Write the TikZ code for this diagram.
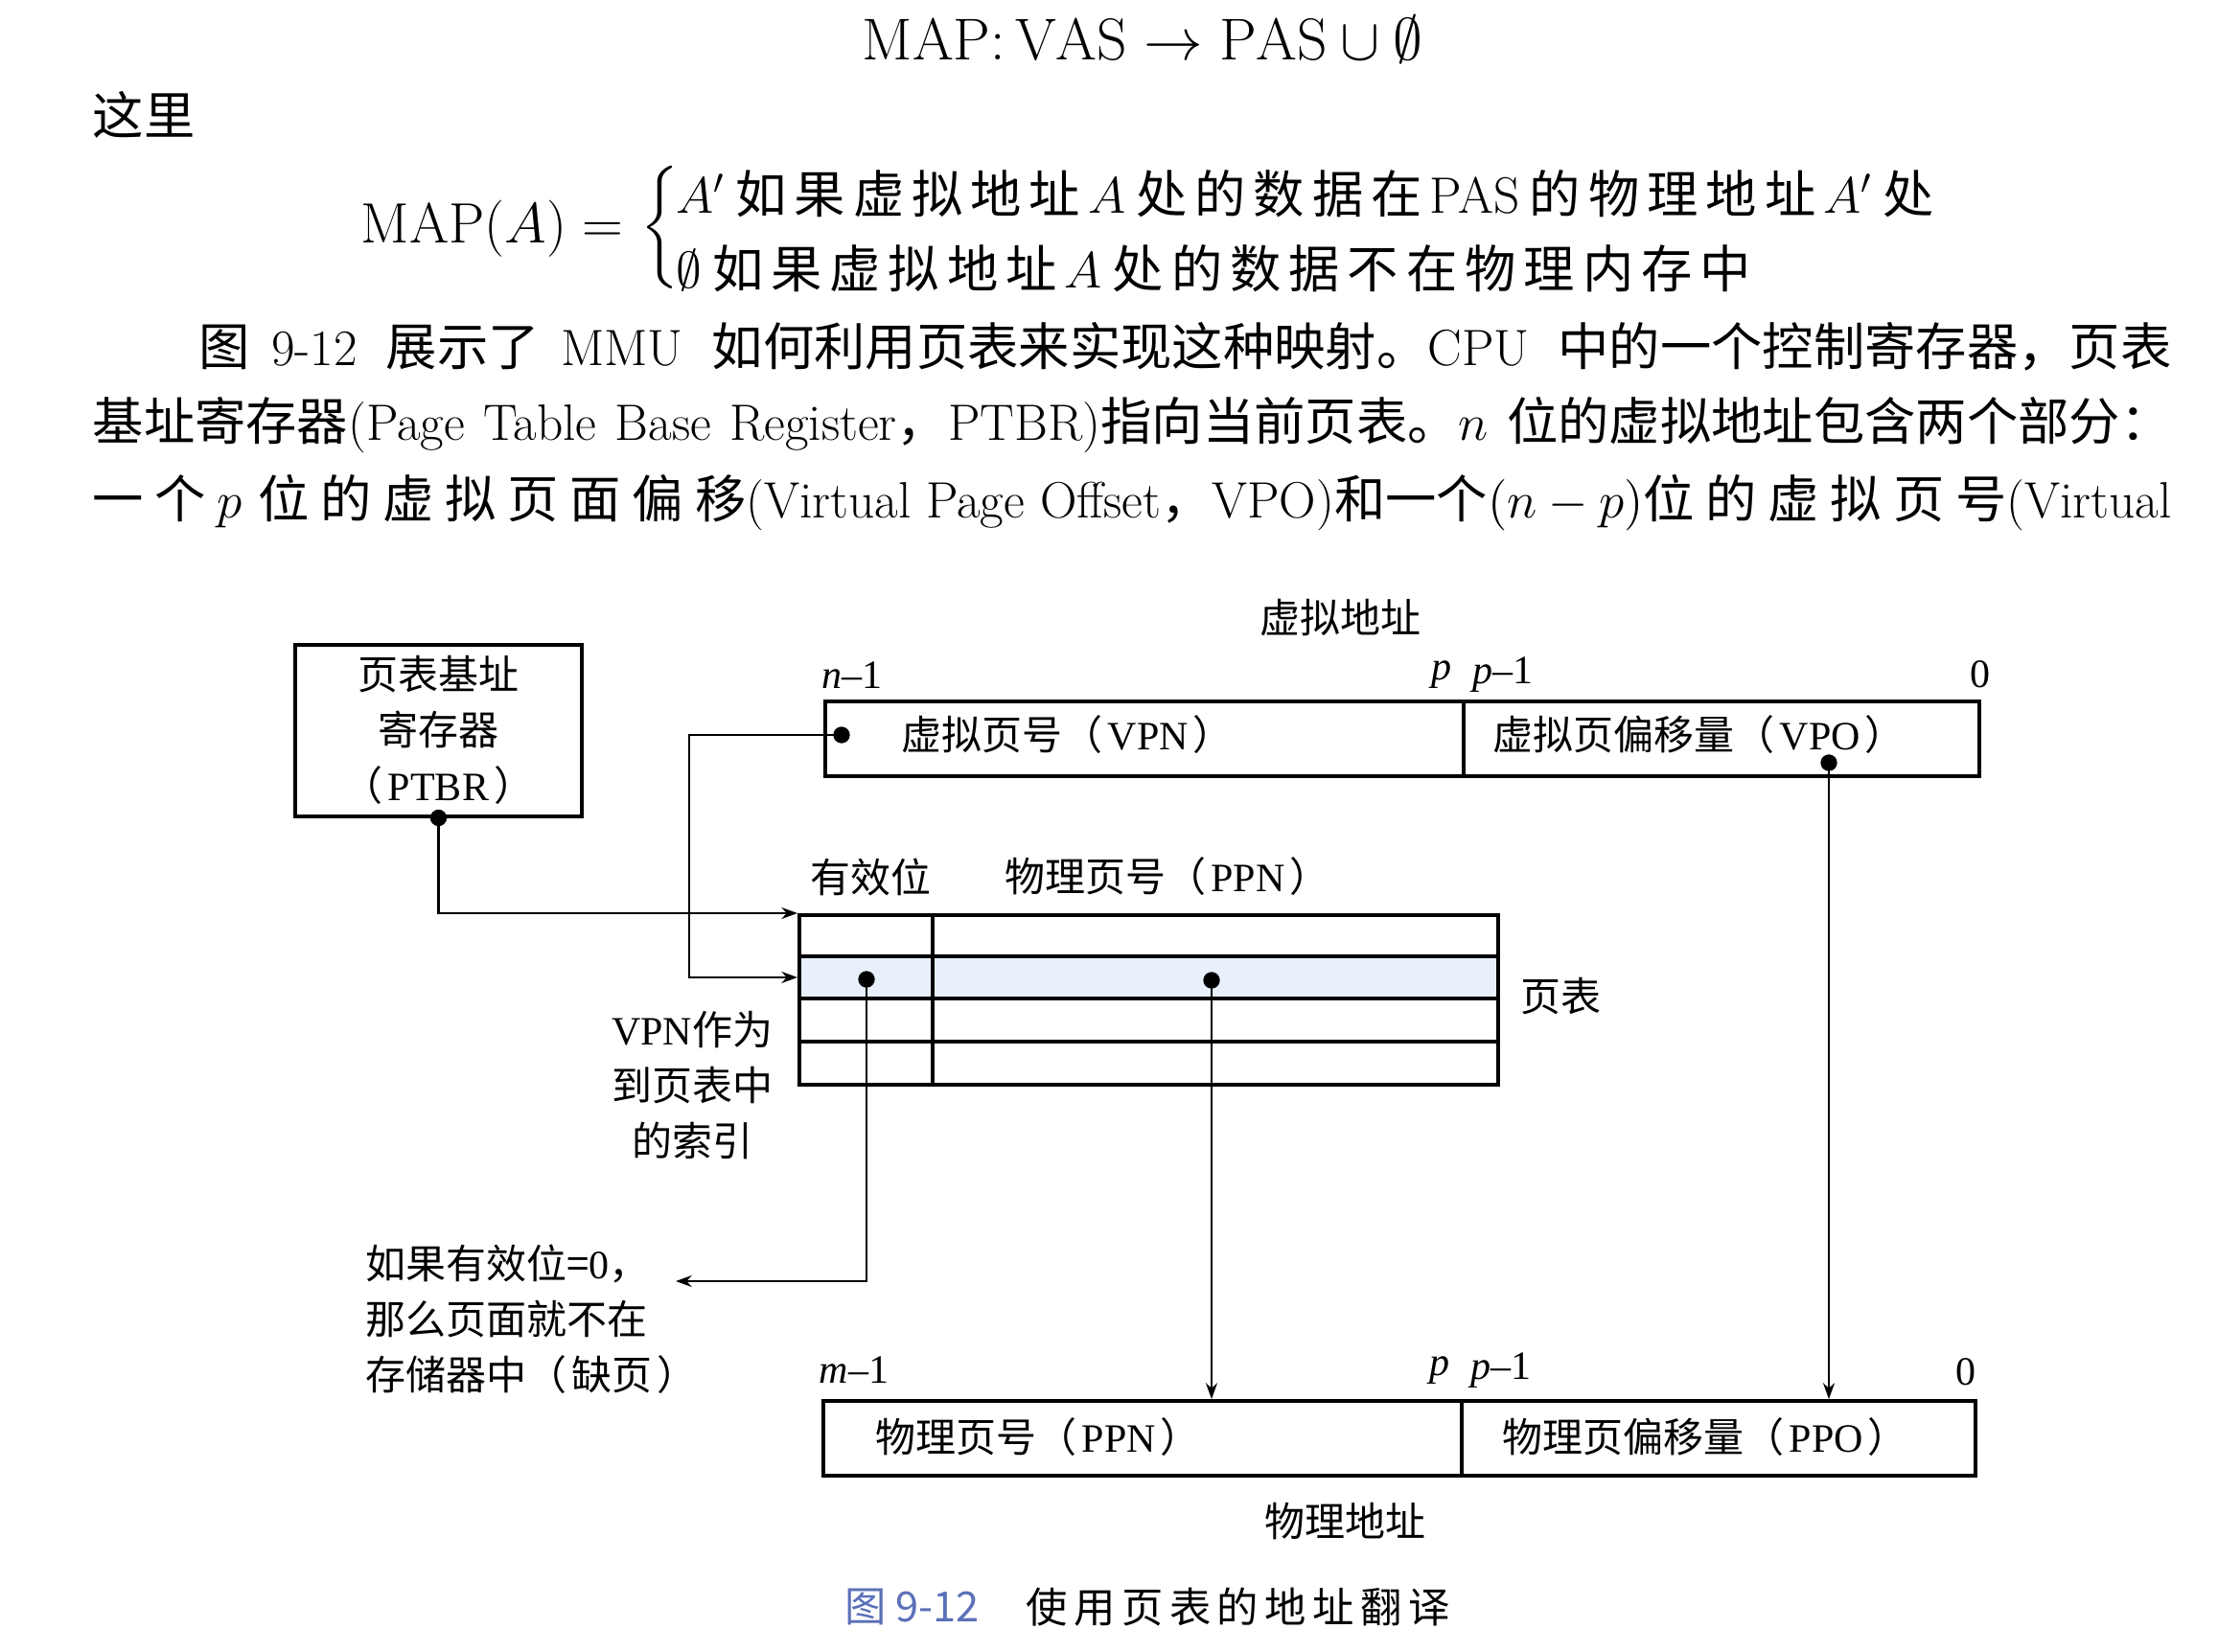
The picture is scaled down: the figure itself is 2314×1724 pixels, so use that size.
\RequirePackage{fix-cm}
\documentclass[tikz,border=0pt]{standalone}
\usepackage{amssymb}
\usepackage{fontspec}
\newfontfamily\zh{Noto Sans CJK SC}
\newfontfamily\tms{Liberation Serif}
\usetikzlibrary{arrows.meta}
\definecolor{hlblue}{RGB}{232,240,251}
\definecolor{capblue}{RGB}{92,112,184}
\newcommand{\inpar}[1]{（\hspace{1.5pt}{\tms #1}\hspace{1.5pt}）}
\begin{document}
\begin{tikzpicture}[x=0.3pt,y=-0.3pt,
  para/.style={inner sep=0pt, anchor=base west, font=\fontsize{16}{19}\selectfont},
  lbl/.style={inner sep=0pt, font=\fontsize{12.6}{17.4}\selectfont\zh},
  box/.style={draw, line width=1.2pt, inner sep=0pt, minimum height=23.5pt, anchor=north west},
  dot/.style={circle, fill=black, inner sep=0pt, minimum size=5.2pt},
  conn/.style={line width=0.65pt},
  arr/.style={conn, -{Stealth[length=5pt,width=3.6pt]}},
  rowline/.style={line width=1.1pt}]
\fill[white] (0,0) rectangle (2314,1724);
\useasboundingbox (0,0) rectangle (2314,1724);

% ---------- text above the figure ----------
\node[inner sep=0pt, font=\fontsize{18.5}{21}\selectfont] (title) at (1192,41)
  {$\mathrm{MAP}{:}\,\mathrm{VAS}\rightarrow\mathrm{PAS}\cup\emptyset$};
\node[para] (zheli) at (96,141) {\zh 这里};
\node[inner sep=0pt, anchor=east, font=\fontsize{17.8}{20}\selectfont] (mapa) at (651,239) {$\mathrm{MAP}(A)=$};
\node[inner sep=0pt, font=\fontsize{16}{19}\selectfont] (brace) at (690,240) {$\left\{\rule[-17pt]{0pt}{34pt}\right.$};
\node[inner sep=0pt, anchor=west, font=\fontsize{16}{19}\selectfont] (case1) at (705,202)
  {\makebox[393pt][s]{$A'$ \zh 如 果 虚 拟 地 址 \rmfamily $A$ \zh 处 的 数 据 在 \rmfamily PAS \zh 的 物 理 地 址 \rmfamily $A'$ \zh 处}};
\node[inner sep=0pt, anchor=west, font=\fontsize{16}{19}\selectfont] (case2) at (705,280)
  {\makebox[324.3pt][s]{$\emptyset$ \zh 如 果 虚 拟 地 址 \rmfamily $A$ \zh 处 的 数 据 不 在 物 理 内 存 中}};
\node[para] (p1) at (207,382)
  {\makebox[617.4pt][s]{\zh 图 \rmfamily 9-12 \zh 展示了 \rmfamily MMU \zh 如何利用页表来实现这种映射。\rmfamily CPU \zh 中的一个控制寄存器，页表}};
\node[para] (p2) at (96,460)
  {\makebox[650.7pt][s]{\zh 基址寄存器\rmfamily(Page Table Base Register\zh ，\rmfamily PTBR)\zh 指向当前页表。\rmfamily $n$ \zh 位的虚拟地址包含两个部分：}};
\node[para] (p3) at (96,541)
  {\makebox[650.7pt][s]{\zh 一 个 \rmfamily $p$ \zh 位 的 虚 拟 页 面 偏 移\rmfamily (Virtual Page Offset\zh ，\rmfamily VPO)\zh 和一个\rmfamily $(n-p)$\zh 位 的 虚 拟 页 号\rmfamily (Virtual}};

% ---------- page table (highlight first) ----------
\fill[hlblue] (832,998) rectangle (1561,1042);
\node[box, minimum width=218.7pt, minimum height=53.1pt] (ptab) at (832,953) {};
\draw[rowline] (832,998) -- (1561,998);
\draw[rowline] (832,1042) -- (1561,1042);
\draw[rowline] (832,1087) -- (1561,1087);
\draw[line width=1.2pt] (973,953) -- (973,1130);
\coordinate (row2w) at (832,1020);

% ---------- boxes ----------
\node[box, minimum width=89.7pt, minimum height=53.7pt, anchor=center, align=center,
      font=\fontsize{12.6}{17.4}\selectfont\zh] (ptbr) at (457.5,762)
  {页表基址\\寄存器\\\inpar{PTBR}};
\node[box, minimum width=199.8pt] (vpn) at (859,730) {};
\node[box, minimum width=161.4pt] (vpo) at (1525,730) {};
\node[box, minimum width=199.8pt] (ppn) at (857,1460) {};
\node[box, minimum width=160.8pt] (ppo) at (1523,1460) {};

\node[lbl, anchor=west] (vpnt) at (940,767) {虚拟页号\inpar{VPN}};
\node[lbl, anchor=west] (vpot) at (1557,767) {虚拟页偏移量\inpar{VPO}};
\node[lbl, anchor=west] (ppnt) at (913,1500) {物理页号\inpar{PPN}};
\node[lbl, anchor=west] (ppot) at (1567,1500) {物理页偏移量\inpar{PPO}};

% ---------- labels ----------
\node[lbl] (valbl) at (1398,645) {虚拟地址};
\node[lbl] (nbit) at (889,705) {\tms{\itshape n}–1};
\node[lbl] (pbit) at (1504,704) {\tms\itshape p};
\node[lbl] (pm1bit) at (1568,704) {\tms{\itshape p}–1};
\node[lbl] (zbit) at (2066,704) {\tms 0};
\node[lbl] (mbit) at (891,1430) {\tms{\itshape m}–1};
\node[lbl] (pbit2) at (1502,1430) {\tms\itshape p};
\node[lbl] (pm1bit2) at (1566,1430) {\tms{\itshape p}–1};
\node[lbl] (zbit2) at (2051,1432) {\tms 0};
\node[lbl] (validlbl) at (908,915) {有效位};
\node[lbl] (ppnlbl) at (1218,915) {物理页号\inpar{PPN}};
\node[lbl] (ptlbl) at (1628,1040) {页表};
\node[lbl, align=center] (idxlbl) at (722,1133) {{\tms VPN}作为\\到页表中\\的索引};
\node[lbl, align=left, anchor=west] (faultlbl) at (381,1377) {如果有效位={\tms 0}，\\那么页面就不在\\存储器中\inpar{\zh 缺页}};
\node[lbl] (palbl) at (1403,1588) {物理地址};
\node[inner sep=0pt, anchor=west, font=\fontsize{13}{15}\selectfont\zh, text=capblue] (capnum) at (881,1677) {图 9-12};
\node[inner sep=0pt, anchor=west, font=\fontsize{13}{15}\selectfont\zh] (captext) at (1070,1677)
  {\makebox[129.3pt][s]{使 用 页 表 的 地 址 翻 译}};

% ---------- dots ----------
\node[dot] (ptbrdot) at (ptbr.south) {};
\node[dot] (vpndot) at (878,767) {};
\node[dot] (vpodot) at (1908,796) {};
\node[dot] (vdot) at (904,1022) {};
\node[dot] (pdot) at (1264,1023) {};

% ---------- connectors ----------
\coordinate (vbend) at (719,767);
\coordinate (faultend) at (705,1337);
\draw[arr] (ptbrdot.center) |- (ptab.north west);
\draw[arr] (vpndot.center) -- (vbend) |- (row2w);
\draw[arr] (vdot.center) |- (faultend);
\draw[arr] (pdot.center) -- (pdot.center |- ppn.north);
\draw[arr] (vpodot.center) -- (vpodot.center |- ppo.north);
\end{tikzpicture}
\end{document}
